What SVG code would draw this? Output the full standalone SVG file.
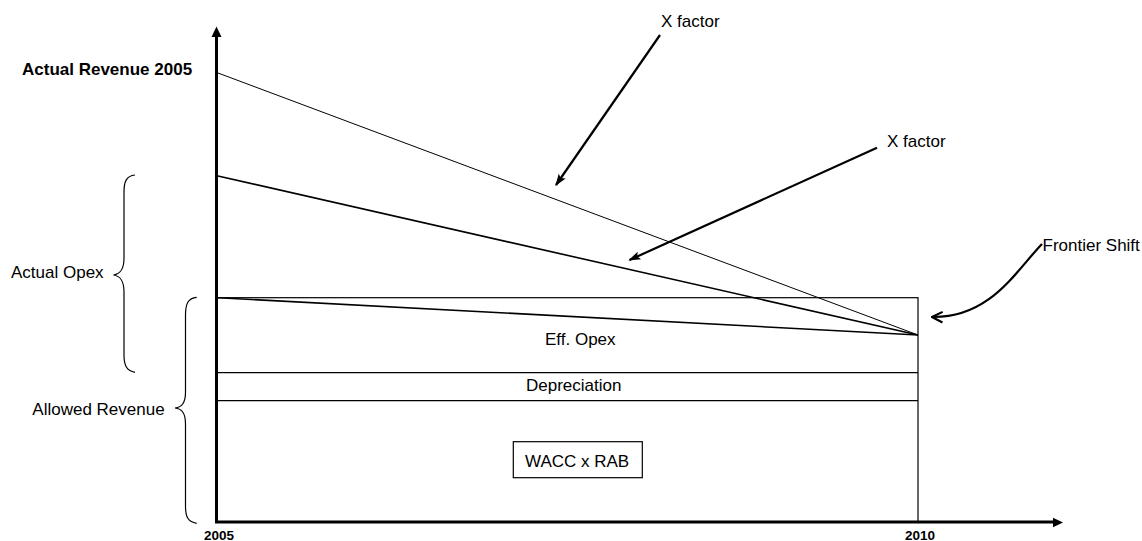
<svg xmlns="http://www.w3.org/2000/svg" width="1142" height="541" viewBox="0 0 1142 541">
<style>
text{font-family:"Liberation Sans",Arial,sans-serif;font-size:17px;fill:#000}
.b{font-weight:bold}
.yr{font-weight:bold;font-size:13.5px}
.thin{stroke:#000;fill:none;stroke-width:1.2}
.ax{stroke:#000;fill:none;stroke-width:3}
.arr{stroke:#000;fill:none;stroke-width:2.2}
.br{stroke:#000;fill:none;stroke-width:1.2}
</style>
<defs>
<marker id="fh" viewBox="0 0 10 10" refX="9" refY="5" markerWidth="5.5" markerHeight="5.5" orient="auto" markerUnits="strokeWidth">
<path d="M0,1.5 L10,5 L0,8.5 L2,5 Z" fill="#000"/>
</marker>
<marker id="oh" viewBox="0 0 10 10" refX="9" refY="5" markerWidth="6" markerHeight="6" orient="auto" markerUnits="strokeWidth">
<path d="M1,1 L9,5 L1,9" fill="none" stroke="#000" stroke-width="1.6"/>
</marker>
</defs>
<rect width="1142" height="541" fill="#fff"/>
<g id="axes">
<line class="ax" x1="216.5" y1="523" x2="216.5" y2="36"/>
<polygon points="216.5,26.5 211.5,37 221.5,37" fill="#000"/>
<line class="ax" x1="215" y1="522" x2="1054" y2="522"/>
<polygon points="1063,522.5 1053,517.8 1053,527.2" fill="#000"/>
</g>
<g id="stack">
<rect class="thin" x="216.5" y="297.7" width="701.5" height="224.3"/>
<line class="thin" x1="216.5" y1="372.7" x2="918" y2="372.7"/>
<line class="thin" x1="216.5" y1="400.7" x2="918" y2="400.7"/>
</g>
<g id="connectors">
<line stroke="#000" stroke-width="1" x1="218" y1="73" x2="918" y2="335"/>
<line stroke="#000" stroke-width="1.6" x1="218" y1="176" x2="918" y2="335"/>
<line stroke="#000" stroke-width="1.6" x1="218" y1="297.7" x2="918" y2="335"/>
<line class="arr" x1="660" y1="35" x2="556" y2="185" marker-end="url(#fh)"/>
<line class="arr" x1="877" y1="147.7" x2="629.5" y2="260" marker-end="url(#fh)"/>
<path class="arr" d="M1042,244 C1015,272 990,318 932,317" marker-end="url(#oh)"/>
<path class="br" d="M135,175 C126,176 124,182 124,192 L124,258 C124,270 120,274 113.5,275 C120,276 124,280 124,292 L124,355 C124,366 127,371 135,372.3"/>
<path class="br" d="M196.7,297.3 C188,298 185.5,304 185.5,315 L185.5,392 C185.5,403 182,407 175,408 C182,409 185.5,413 185.5,424 L185.5,506 C185.5,517 188,522 196.7,523.3"/>
</g>
<g id="labels">
<text class="b" x="22" y="75">Actual Revenue 2005</text>
<text x="661" y="27">X factor</text>
<text x="887" y="147.3">X factor</text>
<text x="1042.5" y="251">Frontier Shift</text>
<text x="11" y="278.3">Actual Opex</text>
<text x="32.3" y="415">Allowed Revenue</text>
<text x="545" y="345">Eff. Opex</text>
<text x="526" y="391">Depreciation</text>
<text class="yr" x="204" y="540">2005</text>
<text class="yr" x="905" y="540">2010</text>
</g>
<g id="wacc">
<rect class="thin" x="513.3" y="441.7" width="129" height="36"/>
<text x="525" y="466.7">WACC x RAB</text>
</g>
</svg>
